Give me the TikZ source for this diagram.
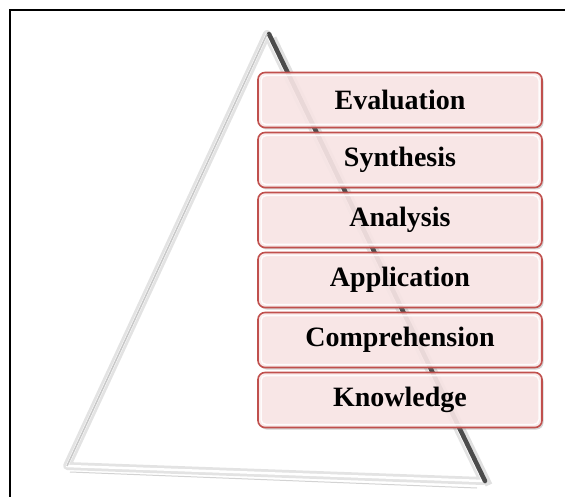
\documentclass[tikz,border=0pt]{standalone}
\usepackage{fontspec}
\setmainfont{Liberation Serif}
\usepackage{tikz}
\usetikzlibrary{shadows}
\definecolor{levelred}{RGB}{192,80,77}
\definecolor{levelpink}{RGB}{253,233,233}
\definecolor{edgegray}{RGB}{200,200,200}

\begin{document}
\begin{tikzpicture}[x=1pt, y=-1pt,
  level/.style={draw=levelred, line width=1.6pt, rounded corners=7pt, fill=levelpink, fill opacity=0.88, text opacity=1,
    minimum width=284pt, minimum height=55pt, font=\fontsize{28}{30}\selectfont\bfseries,
    drop shadow={shadow xshift=1.5pt, shadow yshift=-2pt, opacity=0.35},
    path picture={\draw[white, line width=1.5pt, rounded corners=5pt, opacity=0.9]
      ([shift={(3pt,3pt)}]path picture bounding box.south west) rectangle ([shift={(-3pt,-3pt)}]path picture bounding box.north east);}}]
\useasboundingbox (0,0) rectangle (565,497);
\draw[line width=2pt] (10,497) -- (10,10) -- (565,10);
% pyramid
\coordinate (top) at (267,34);
\coordinate (left) at (67,466);
\coordinate (right) at (483,481);
\draw[line width=8pt, edgegray!50, line join=round] (top) -- (right) -- (left) -- cycle;
\draw[line width=2.5pt, white, line join=round] (top) -- (right) -- (left) -- cycle;
\draw[line width=1pt, edgegray!80] ([shift={(3,6)}]left) -- ([shift={(-6,7)}]right);
\draw[line width=7pt, black!20, opacity=0.6] ([shift={(6,4)}]top) -- ([shift={(6,4)}]right);
\draw[line width=4.5pt, black!70, line cap=round] ([shift={(2,0)}]top) -- ([shift={(2,0)}]right);
\draw[line width=1.5pt, edgegray] (left) -- (top);
% levels
\node[level] (eval) at (400,100) {Evaluation};
\node[level] (synth) at (400,160) {Synthesis};
\node[level] (anal) at (400,220) {Analysis};
\node[level] (appl) at (400,280) {Application};
\node[level] (compr) at (400,340) {Comprehension};
\node[level] (know) at (400,400) {Knowledge};
\end{tikzpicture}
\end{document}
